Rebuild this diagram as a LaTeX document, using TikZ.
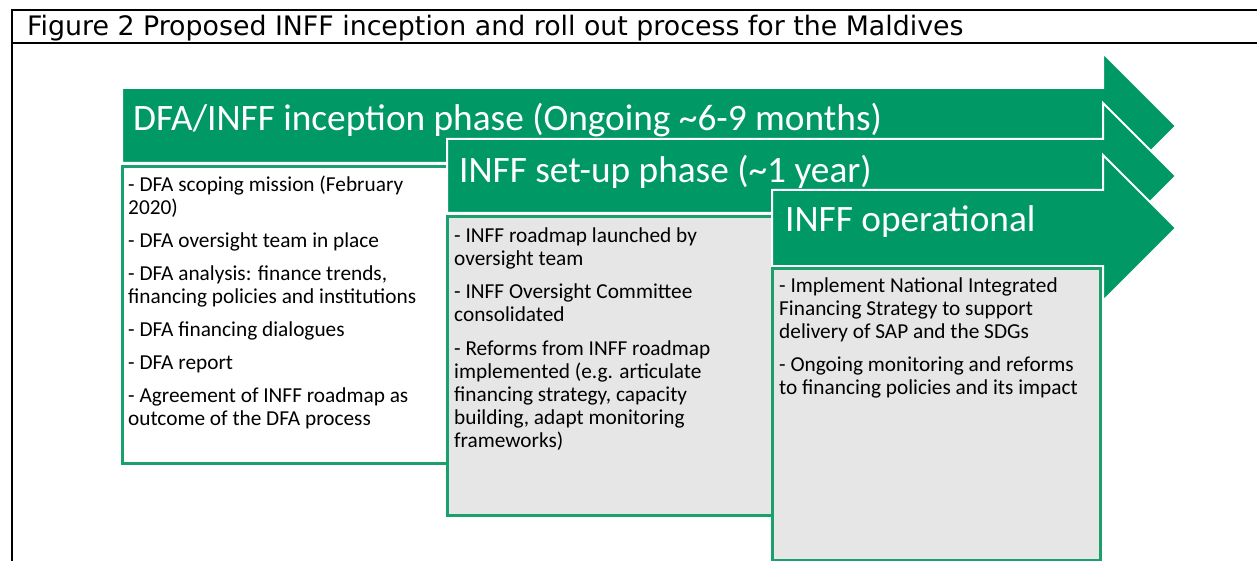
\documentclass[tikz,border=0pt]{standalone}
\usepackage{fontspec}
\setmainfont{Carlito}
\newfontfamily\titlefont{DejaVu Sans}
\definecolor{arrowgreen}{RGB}{0,153,102}
\definecolor{boxgreen}{RGB}{26,160,108}
\definecolor{boxgray}{RGB}{230,230,230}
\newcommand\itemtext[2]{\parbox[t]{#1}{\raggedright\fontsize{21.3}{23}\selectfont\setlength\parskip{10pt}#2}}
\tikzset{
  phasearrow/.style={fill=arrowgreen, draw=white, line width=2pt, line join=miter},
  phaseborder/.style={draw=boxgreen, line width=3pt},
  headtext/.style={anchor=base west, inner sep=0pt, text=white, font=\fontsize{37.3}{40}\selectfont},
  bodytext/.style={anchor=base west, inner sep=0pt, text=black},
}
\begin{document}
\begin{tikzpicture}[x=1pt,y=-1pt]
\useasboundingbox (0,0) rectangle (1257,561);
% frame
\draw[line width=2pt] (1257,10) -- (12,10) -- (12,561);
\draw[line width=2pt] (12,43) -- (1257,43);
\node[anchor=base west, inner sep=0pt, font=\titlefont\fontsize{26.8}{30}\selectfont] (title) at (27,36) {Figure 2 Proposed INFF inception and roll out process for the Maldives};
% arrow 1
\path[phasearrow] (122,88) -- (1103,88) -- (1103,53) -- (1176,126) -- (1103,199) -- (1103,163) -- (122,163) -- cycle;
\node[headtext] (h1) at (133,131) {DFA/INFF inception phase (Ongoing \textasciitilde 6-9 months)};
% box 1
\fill[white] (122,167) rectangle (447,463);
\draw[phaseborder] (447,167) -- (122,167) -- (122,463) -- (447,463);
\node[bodytext] (b1) at (128,192) {\itemtext{330pt}{- DFA scoping mission (February\\2020)\par
- DFA oversight team in place\par
- DFA analysis: finance trends,\\financing policies and institutions\par
- DFA financing dialogues\par
- DFA report\par
- Agreement of INFF roadmap as\\outcome of the DFA process}};
% arrow 2
\path[phasearrow] (447,139) -- (1103,139) -- (1103,103) -- (1176,176) -- (1103,249) -- (1103,213) -- (447,213) -- cycle;
\node[headtext] (h2) at (459,183) {INFF set-up phase (\textasciitilde 1 year)};
% box 2
\fill[boxgray] (447,217) rectangle (772,515);
\draw[phaseborder] (772,217) -- (447,217) -- (447,515) -- (772,515);
\node[bodytext] (b2) at (454,243) {\itemtext{315pt}{- INFF roadmap launched by\\oversight team\par
- INFF Oversight Committee\\consolidated\par
- Reforms from INFF roadmap\\implemented (e.g. articulate\\financing strategy, capacity\\building, adapt monitoring\\frameworks)}};
% arrow 3
\path[phasearrow] (772,190) -- (1103,190) -- (1103,155) -- (1176,228) -- (1103,301) -- (1103,266) -- (772,266) -- cycle;
\node[headtext] (h3) at (785,232) {INFF operational};
% box 3
\path[phaseborder, fill=boxgray] (772,268) rectangle (1100,560);
\node[bodytext] (b3) at (779,292) {\itemtext{318pt}{- Implement National Integrated\\Financing Strategy to support\\delivery of SAP and the SDGs\par
- Ongoing monitoring and reforms\\to financing policies and its impact}};
\end{tikzpicture}
\end{document}
